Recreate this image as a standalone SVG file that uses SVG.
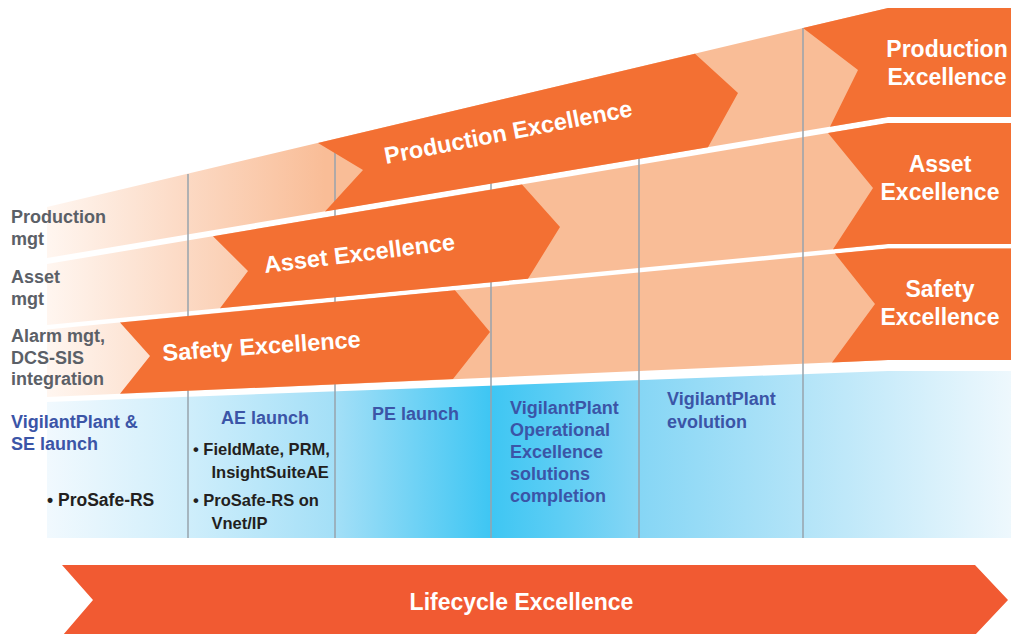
<svg xmlns="http://www.w3.org/2000/svg" width="1011" height="634" viewBox="0 0 1011 634">
  <defs>
    <linearGradient id="peach" gradientUnits="userSpaceOnUse" x1="47" y1="0" x2="325" y2="0">
      <stop offset="0" stop-color="#fff6f0"/>
      <stop offset="0.45" stop-color="#fcdcc8"/>
      <stop offset="1" stop-color="#f9bd97"/>
    </linearGradient>
    <linearGradient id="blue" gradientUnits="userSpaceOnUse" x1="47" y1="0" x2="1011" y2="0">
      <stop offset="0" stop-color="#f1f9fe"/>
      <stop offset="0.146" stop-color="#cfeefb"/>
      <stop offset="0.30" stop-color="#a3dff7"/>
      <stop offset="0.46" stop-color="#3ec6f3"/>
      <stop offset="0.53" stop-color="#5ccdf4"/>
      <stop offset="0.615" stop-color="#86d6f5"/>
      <stop offset="0.785" stop-color="#b3e4f8"/>
      <stop offset="1" stop-color="#eef8fd"/>
    </linearGradient>
    <style>
      .band { fill: url(#peach); }
      .arrow { fill: #f37033; }
      .life { fill: #f15a32; }
      .grid { stroke: #97a3ad; stroke-width: 1.5; fill: none; }
      .t { font-family: "Liberation Sans", Arial, Helvetica, sans-serif; font-weight: bold; }
      .wt { fill: #ffffff; font-size: 23px; }
      .wa { fill: #ffffff; font-size: 23.5px; }
      .gray { fill: #5b6067; font-size: 18px; }
      .bl { fill: #3b55a7; font-size: 18px; }
      .blk { fill: #231f20; font-size: 16.5px; }
    </style>
  </defs>

  <!-- pale bands -->
  <g id="bands">
    <polygon id="band-production" class="band" points="47,207 888,8 1011,8 1011,117 888,117 47,258"/>
    <polygon id="band-asset" class="band" points="47,264 888,123 1011,123 1011,244 888,244 47,325"/>
    <polygon id="band-safety" class="band" points="47,329.5 888,248.5 1011,248.5 1011,360 888,360 47,397"/>
  </g>

  <!-- timeline area -->
  <g id="timeline">
    <polygon points="47,402 888,371 1011,371 1011,538 47,538" fill="url(#blue)"/>
  </g>

  <!-- grid lines -->
  <g id="connectors">
    <line class="grid" x1="188" y1="174" x2="188" y2="538"/>
    <line class="grid" x1="335" y1="139" x2="335" y2="538"/>
    <line class="grid" x1="491" y1="102" x2="491" y2="538"/>
    <line class="grid" x1="639" y1="67" x2="639" y2="538"/>
    <line class="grid" x1="803" y1="28" x2="803" y2="538"/>
  </g>

  <!-- arrows -->
  <g id="arrow-production">
    <polygon class="arrow" points="318,142.9 695,53.7 738,93 708,147.2 325,211.4 363,170"/>
    <text class="t wa" transform="translate(386,164) rotate(-11)">Production Excellence</text>
  </g>
  <g id="arrow-asset">
    <polygon class="arrow" points="213,236.2 522,184.4 560,227 528,278.7 220,308.3 248,271"/>
    <text class="t wa" transform="translate(265,273) rotate(-7)">Asset Excellence</text>
  </g>
  <g id="arrow-safety">
    <polygon class="arrow" points="120,322.5 455,290.2 490,332 453,379.1 120,393.8 150,356"/>
    <text class="t wa" transform="translate(163,361) rotate(-4)">Safety Excellence</text>
  </g>

  <g id="box-production">
    <polygon class="arrow" points="803,28.1 888,8 1011,8 1011,117 888,117 830,126.8 858,70"/>
    <text class="t wt" text-anchor="middle" x="947" y="57">Production</text>
    <text class="t wt" text-anchor="middle" x="947" y="84.5">Excellence</text>
  </g>
  <g id="box-asset">
    <polygon class="arrow" points="828,133.1 888,123 1011,123 1011,244 888,244 833,249.3 873,188"/>
    <text class="t wt" text-anchor="middle" x="940" y="172">Asset</text>
    <text class="t wt" text-anchor="middle" x="940" y="200">Excellence</text>
  </g>
  <g id="box-safety">
    <polygon class="arrow" points="835,253.6 888,248.5 1011,248.5 1011,360 888,360 832,362.5 875,304"/>
    <text class="t wt" text-anchor="middle" x="940" y="296.5">Safety</text>
    <text class="t wt" text-anchor="middle" x="940" y="324.5">Excellence</text>
  </g>

  <!-- left labels -->
  <g id="label-production-mgt">
    <text class="t gray" x="11" y="223">Production</text>
    <text class="t gray" x="11" y="245">mgt</text>
  </g>
  <g id="label-asset-mgt">
    <text class="t gray" x="11" y="283">Asset</text>
    <text class="t gray" x="11" y="304.5">mgt</text>
  </g>
  <g id="label-alarm">
    <text class="t gray" x="11" y="342">Alarm mgt,</text>
    <text class="t gray" x="11" y="363.5">DCS-SIS</text>
    <text class="t gray" x="11" y="385">integration</text>
  </g>

  <!-- timeline texts -->
  <g id="milestone-1">
    <text class="t bl" x="11" y="427.5">VigilantPlant &amp;</text>
    <text class="t bl" x="11" y="449.5">SE launch</text>
    <text class="t blk" x="47" y="506" style="font-size:17.5px">• ProSafe-RS</text>
  </g>
  <g id="milestone-2">
    <text class="t bl" x="221" y="423.5">AE launch</text>
    <text class="t blk" x="193" y="455">• FieldMate, PRM,</text>
    <text class="t blk" x="211.5" y="477.5">InsightSuiteAE</text>
    <text class="t blk" x="193" y="506">• ProSafe-RS on</text>
    <text class="t blk" x="211.5" y="528.5">Vnet/IP</text>
  </g>
  <g id="milestone-3">
    <text class="t bl" x="372" y="420">PE launch</text>
  </g>
  <g id="milestone-4">
    <text class="t bl" x="510" y="413.5">VigilantPlant</text>
    <text class="t bl" x="510" y="435.5">Operational</text>
    <text class="t bl" x="510" y="457.5">Excellence</text>
    <text class="t bl" x="510" y="480">solutions</text>
    <text class="t bl" x="510" y="502">completion</text>
  </g>
  <g id="milestone-5">
    <text class="t bl" x="667" y="405">VigilantPlant</text>
    <text class="t bl" x="667" y="428">evolution</text>
  </g>

  <!-- lifecycle arrow -->
  <g id="arrow-lifecycle">
    <polygon class="life" points="62,565 975,565 1008,600 975,635 63,635 93,600"/>
    <text class="t wt" text-anchor="middle" x="521.5" y="609.5">Lifecycle Excellence</text>
  </g>
</svg>
